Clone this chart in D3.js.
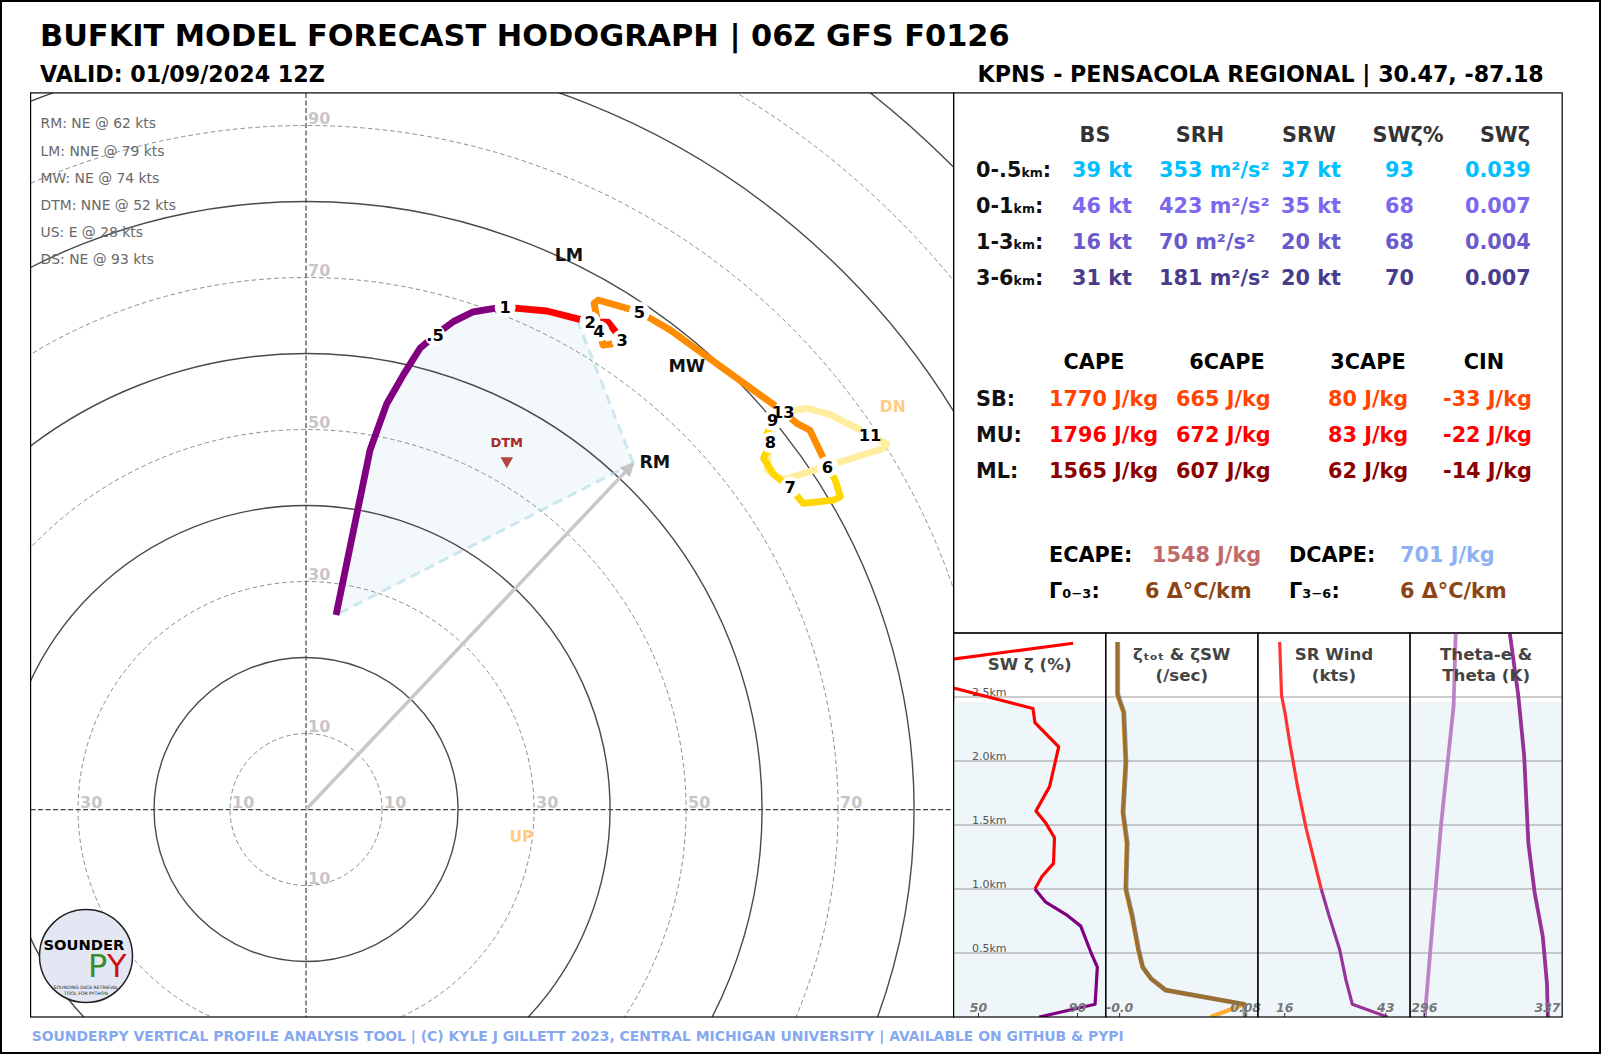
<!DOCTYPE html>
<html><head><meta charset="utf-8">
<script src="https://cdnjs.cloudflare.com/ajax/libs/d3/7.8.5/d3.min.js"></script>
<style>
body{margin:0;background:#fff}
svg{display:block}
text{font-family:'DejaVu Sans',sans-serif}
</style></head>
<body><svg id="c" width="1601" height="1054"></svg>
<script>
// ---------------- DATA ----------------
const titleText = "BUFKIT MODEL FORECAST HODOGRAPH | 06Z GFS F0126";
const validText = "VALID: 01/09/2024 12Z";
const siteText = "KPNS - PENSACOLA REGIONAL | 30.47, -87.18";
const footerText = "SOUNDERPY VERTICAL PROFILE ANALYSIS TOOL | (C) KYLE J GILLETT 2023, CENTRAL MICHIGAN UNIVERSITY | AVAILABLE ON GITHUB & PYPI";

// hodograph trace (km AGL, u kt, v kt)
const hodoHgt = [0,0.25,0.3,0.35,0.42,0.5,0.6,0.75,0.9,1.0,1.25,1.55,1.85,2.0,2.4,3.0,3.3,3.6,4.0,4.3,4.6,4.7,4.85,5.0,5.2,5.35,5.8,5.87,5.92,6.0,6.3,6.5,6.6,6.8,7.0,7.3,7.6,8.0,8.5,9.0,10.0,10.3,10.6,10.85,10.92,11.0,11.5,12.2,13.0];
const hodoU = [3.95,8.42,10.62,12.80,15.0,16.97,19.38,22.0,24.6,26.2,28.2,31.7,35.62,37.37,39.74,41.58,40.13,39.08,38.55,38.25,37.89,38.42,42.2,43.86,45.7,47.9,61.9,64.6,66.3,68.6,69.6,70.3,69.4,65.4,63.7,61.6,60.2,61.1,60.6,61.4,60.6,62.8,67.6,76.0,76.4,74.2,68.9,65.9,62.8];
const hodoV = [25.6,47.3,53.4,57.2,60.7,62.4,64.2,65.5,65.9,66.1,65.9,65.6,64.6,64.18,64.14,61.78,61.25,61.12,62.96,64.84,66.61,67.04,65.95,65.42,64.4,63.1,53.0,50.8,49.9,45.1,43.4,41.2,40.7,40.3,42.4,44.0,46.2,48.3,49.3,51.2,44.7,43.4,44.9,47.5,48.1,49.3,52.0,52.8,52.3];
const layerBounds = [0,1,3,6,9,13];
const layerColors = ["#800080","#ff0000","#ff8c00","#ffd700","#ffeda0"];
const hgtLabelKm = [0.5,1,2,3,4,5,6,7,8,9,11,13];
const hgtLabelText = [".5","1","2","3","4","5","6","7","8","9","11","13"];
const inflowTopKm = 1.85;

const ringVals = [10,20,30,40,50,60,70,80,90,100,110,120,130];
const ringLabelX = [-30,-10,10,30,50,70];
const ringLabelY = [-10,10,30,50,70,90];

// storm motions
const rmUV = [43.07,45.55];
const dtmUV = [26.41,45.63];
const lmLabelUV = [34.6,72.96];
const mwLabelUV = [50.1,58.4];
const dnUV = [77.2,53.05];
const upUV = [28.34,-3.58];
const motionNames = ["RM","LM","MW","DTM","US","DS"];
const motionDirs = ["NE","NNE","NE","NNE","E","NE"];
const motionSpds = [62,79,74,52,28,93];

// kinematic table
const shearHeaders = ["BS","SRH","SRW","SWζ%","SWζ"];
const shearLayers = ["0-.5","0-1","1-3","3-6"];
const bsVals = [39,46,16,31];
const srhVals = [353,423,70,181];
const srwVals = [37,35,20,20];
const swzPctVals = [93,68,68,70];
const swzVals = ["0.039","0.007","0.004","0.007"];
const shearColors = ["#00bfff","#7b68ee","#6a5acd","#483d8b"];

// thermo table
const capeHeaders = ["CAPE","6CAPE","3CAPE","CIN"];
const parcels = ["SB","MU","ML"];
const capeVals = [1770,1796,1565];
const cape6Vals = [665,672,607];
const cape3Vals = [80,83,62];
const cinVals = [-33,-22,-14];
const parcelColors = ["#ff4500","#ff0000","#8b0000"];
const ecapeVal = 1548, dcapeVal = 701, lapse03 = 6, lapse36 = 6;

// vertical profile panels (km, value)
const swzHgt = [0,0.10,0.39,0.50,0.71,0.80,0.90,1.00,1.10,1.20,1.40,1.52,1.61,1.80,2.11,2.30,2.41,2.72,2.92];
const swzPct = [74.7,97.3,98.2,95.7,91.5,85.6,77.2,73.0,75.9,80.5,80.9,77.2,73.4,78.9,82.6,73.0,72.2,10,88.4];
const zetaHgt = [0,0.10,0.21,0.30,0.39,0.53,0.79,1.0,1.36,1.60,1.99,2.38,2.52,2.93];
const zetaTot = [0.080,0.0795,0.0295,0.0203,0.015,0.0123,0.0084,0.0044,0.0052,0.0026,0.0044,0.0031,-0.0008,-0.0008];
const zetaSW  = [0.058,0.0795,0.0295,0.0201,0.0148,0.0120,0.0080,0.0040,0.0048,0.0022,0.0040,0.0026,-0.0013,-0.0013];
const srwHgt = [0,0.10,0.29,0.53,0.79,1.00,1.47,1.78,2.14,2.38,2.51,2.93];
const srwKt = [43.6,34.2,32.5,30.8,28.0,25.9,21.9,19.7,17.5,16.2,15.3,14.8];
const thetaHgt = [0,0.76,1.52,2.43,3.0];
const thetaK = [296.3,299.0,301.8,305.9,306.6];
const thetaEHgt = [0,0.26,0.63,0.97,1.36,2.04,2.52,3.0];
const thetaEK = [337.3,337.0,335.6,332.9,330.8,329.4,327.4,324.6];
const gridKm = [0.5,1.0,1.5,2.0,2.5];
const inflowShadeKm = 2.46;
const panelTitles = [["SW ζ (%)"],["ζₜₒₜ & ζSW","(/sec)"],["SR Wind","(kts)"],["Theta-e &","Theta (K)"]];
const panelDomains = [[40.14,101.6],[-0.0085,0.0881],[8.98,49.63],[291.39,342.07]];
const panelTicks = [[50,90],[0,0.08],[16,43],[296,337]];
const panelTickLabels = [["50","90"],["-0.0","0.08"],["16","43"],["296","337"]];

// ---------------- DRAW ----------------
const svg = d3.select("#c");
svg.append("rect").attr("width",1601).attr("height",1054).attr("fill","#fff");
const defs = svg.append("defs");

function fit(sel, target){
  const w = sel.node().getComputedTextLength();
  const fs = parseFloat(sel.attr("font-size"));
  sel.attr("font-size", fs*target/w);
  return sel;
}

// titles
fit(svg.append("text").attr("x",40).attr("y",46).attr("font-size",30.5).attr("font-weight","bold").attr("fill","#000").text(titleText),970);
fit(svg.append("text").attr("x",40).attr("y",81.5).attr("font-size",22).attr("font-weight","bold").attr("fill","#000").text(validText),285);
fit(svg.append("text").attr("x",1543.8).attr("y",81.5).attr("text-anchor","end").attr("font-size",22).attr("font-weight","bold").attr("fill","#000").text(siteText),566.7);
fit(svg.append("text").attr("x",31.7).attr("y",1041).attr("font-size",13.9).attr("font-weight","bold").attr("fill","#86a8f0").text(footerText),1092.5);

// ---- hodograph ----
const HB = {x0:30.6,x1:953.6,y0:92.9,y1:1017};
const hx = d3.scaleLinear().domain([-36.24,85.2]).range([HB.x0,HB.x1]);
const hy = d3.scaleLinear().domain([-27.3,94.3]).range([HB.y1,HB.y0]);
defs.append("clipPath").attr("id","hclip").append("rect")
  .attr("x",HB.x0).attr("y",HB.y0).attr("width",HB.x1-HB.x0).attr("height",HB.y1-HB.y0);
const hg = svg.append("g").attr("clip-path","url(#hclip)");
const cx0 = hx(0), cy0 = hy(0), kt = hx(1)-hx(0);
const pts = hodoHgt.map((h,i)=>({h:h,u:hodoU[i],v:hodoV[i]}));
const line = d3.line().x(d=>hx(d.u)).y(d=>hy(d.v));

// inflow fill
const inflowPts = [{u:rmUV[0],v:rmUV[1]}].concat(pts.filter(p=>p.h<=inflowTopKm));
hg.append("path").attr("d",line(inflowPts)+"Z").attr("fill","#f3f9fb").attr("stroke","none");

// rings
hg.selectAll("circle.ring").data(ringVals).enter().append("circle")
  .attr("cx",cx0).attr("cy",cy0).attr("r",d=>d*kt).attr("fill","none")
  .attr("stroke",d=>d%20===0?"#4a4a4a":"#8c8c8c")
  .attr("stroke-width",d=>d%20===0?1.4:1)
  .attr("stroke-dasharray",d=>d%20===0?null:"4.5 3");
// axes
hg.append("line").attr("x1",cx0).attr("x2",cx0).attr("y1",HB.y0).attr("y2",HB.y1)
  .attr("stroke","#444").attr("stroke-width",1.2).attr("stroke-dasharray","5 2.5");
hg.append("line").attr("x1",HB.x0).attr("x2",HB.x1).attr("y1",cy0).attr("y2",cy0)
  .attr("stroke","#444").attr("stroke-width",1.2).attr("stroke-dasharray","5 2.5");
// ring labels
hg.selectAll("text.rx").data(ringLabelX).enter().append("text")
  .attr("x",d=>hx(d)+2).attr("y",cy0-1.5).attr("font-size",16).attr("font-weight","bold")
  .attr("fill","#c6c6c6").text(d=>Math.abs(d));
hg.selectAll("text.ry").data(ringLabelY).enter().append("text")
  .attr("x",cx0+2).attr("y",d=>hy(d)-1.5).attr("font-size",16).attr("font-weight","bold")
  .attr("fill","#c6c6c6").text(d=>Math.abs(d));

// dashed inflow edges
const inflowTop = pts.filter(p=>p.h<=inflowTopKm).slice(-1)[0];
[pts[0], inflowTop].forEach(p=>{
  hg.append("line").attr("x1",hx(rmUV[0])).attr("y1",hy(rmUV[1])).attr("x2",hx(p.u)).attr("y2",hy(p.v))
    .attr("stroke","#add8e6").attr("stroke-opacity",0.6).attr("stroke-width",3).attr("stroke-dasharray","10 6");
});

// RM arrow
defs.append("marker").attr("id","ah").attr("viewBox","0 0 10 10").attr("refX",9).attr("refY",5)
  .attr("markerWidth",4).attr("markerHeight",4).attr("orient","auto")
  .append("path").attr("d","M0,0L10,5L0,10Z").attr("fill","#c4c4c4");
hg.append("line").attr("x1",cx0).attr("y1",cy0).attr("x2",hx(rmUV[0])).attr("y2",hy(rmUV[1]))
  .attr("stroke","#c8c8c8").attr("stroke-width",3.5).attr("marker-end","url(#ah)");

// trace segments (upper layers drawn first)
for(let i=layerColors.length-1;i>=0;i--){
  const lo=layerBounds[i], hi=layerBounds[i+1];
  const seg = pts.filter(p=>p.h>=lo && p.h<=hi);
  hg.append("path").attr("d",line(seg)).attr("fill","none").attr("stroke",layerColors[i])
    .attr("stroke-width",6.8).attr("stroke-linejoin","round").attr("stroke-linecap","butt");
}
// height labels
hgtLabelKm.forEach((km,i)=>{
  const p = pts[hodoHgt.indexOf(km)];
  hg.append("circle").attr("cx",hx(p.u)).attr("cy",hy(p.v)).attr("r",10.5).attr("fill","#fff");
});
hgtLabelKm.forEach((km,i)=>{
  const p = pts[hodoHgt.indexOf(km)];
  hg.append("text").attr("x",hx(p.u)).attr("y",hy(p.v)+5.8).attr("text-anchor","middle")
    .attr("font-size",16.3).attr("font-weight","bold").attr("fill","#000").text(hgtLabelText[i]);
});

// motion labels
hg.append("text").attr("x",hx(lmLabelUV[0])).attr("y",hy(lmLabelUV[1])+6.3).attr("text-anchor","middle")
  .attr("font-size",17.5).attr("font-weight","bold").attr("fill","#111").text("LM");
hg.append("text").attr("x",hx(mwLabelUV[0])).attr("y",hy(mwLabelUV[1])+6.3).attr("text-anchor","middle")
  .attr("font-size",17.5).attr("font-weight","bold").attr("fill","#111").text("MW");
hg.append("text").attr("x",hx(rmUV[0])+6).attr("y",hy(rmUV[1])+4.5)
  .attr("font-size",17.5).attr("font-weight","bold").attr("fill","#111").text("RM");
// DTM
const dx = hx(dtmUV[0]), dy = hy(dtmUV[1]);
hg.append("path").attr("d",`M${dx-6.3},${dy-5.5}L${dx+6.3},${dy-5.5}L${dx},${dy+5.5}Z`).attr("fill","#b54545");
hg.append("text").attr("x",dx).attr("y",dy-16).attr("text-anchor","middle")
  .attr("font-size",13).attr("font-weight","bold").attr("fill","#a52a2a").text("DTM");
hg.append("text").attr("x",hx(dnUV[0])).attr("y",hy(dnUV[1])+5.6).attr("text-anchor","middle")
  .attr("font-size",15.5).attr("font-weight","bold").attr("fill","#ffcc80").text("DN");
hg.append("text").attr("x",hx(upUV[0])).attr("y",hy(upUV[1])+5.6).attr("text-anchor","middle")
  .attr("font-size",15.5).attr("font-weight","bold").attr("fill","#ffcc80").text("UP");

// motion list
motionNames.forEach((n,i)=>{
  hg.append("text").attr("x",40.6).attr("y",128.4+i*27.2).attr("font-size",13.9).attr("fill","#696969")
    .text(`${n}: ${motionDirs[i]} @ ${motionSpds[i]} kts`);
});

// logo
const lg = hg.append("g");
lg.append("circle").attr("cx",86).attr("cy",956).attr("r",46.5).attr("fill","#e3e7f3").attr("stroke","#222").attr("stroke-width",1.5);
fit(lg.append("text").attr("x",43.5).attr("y",950).attr("font-size",15).attr("font-weight","bold").attr("fill","#000").text("SOUNDER"),81);
lg.append("text").attr("x",88).attr("y",977).attr("font-size",32).attr("fill","#3d8c2a").text("P");
lg.append("text").attr("x",107).attr("y",977).attr("font-size",32).attr("fill","#cc1111").text("Y");
lg.append("text").attr("x",86).attr("y",989).attr("text-anchor","middle").attr("font-size",4.6).attr("fill","#222").text("SOUNDING DATA RETRIEVAL");
lg.append("text").attr("x",86).attr("y",995).attr("text-anchor","middle").attr("font-size",4.6).attr("fill","#222").text("TOOL FOR PYTHON");

svg.append("rect").attr("x",HB.x0).attr("y",HB.y0).attr("width",HB.x1-HB.x0).attr("height",HB.y1-HB.y0)
  .attr("fill","none").attr("stroke","#000").attr("stroke-width",1.2);

// ---- table ----
const TB = {x0:953.6,x1:1562.2,y0:92.9,y1:633};
svg.append("rect").attr("x",TB.x0).attr("y",TB.y0).attr("width",TB.x1-TB.x0).attr("height",TB.y1-TB.y0)
  .attr("fill","none").attr("stroke","#000").attr("stroke-width",1.2);
const FS = 20.8;
const shearHeadX = [1095,1200,1309,1408,1505];
shearHeaders.forEach((h,i)=>svg.append("text").attr("x",shearHeadX[i]).attr("y",141.5).attr("text-anchor","middle")
  .attr("font-size",FS).attr("font-weight","bold").attr("fill","#333").text(h));
const rowY = [177.2,212.9,248.7,284.6];
const shearColX = [1072,1159,1281,1385,1465];
shearLayers.forEach((l,i)=>{
  const t = svg.append("text").attr("x",976).attr("y",rowY[i]).attr("font-size",FS).attr("font-weight","bold").attr("fill","#111");
  t.append("tspan").text(l);
  t.append("tspan").attr("font-size",12.5).text("km");
  t.append("tspan").text(":");
  const vals = [`${bsVals[i]} kt`,`${srhVals[i]} m²/s²`,`${srwVals[i]} kt`,`${swzPctVals[i]}`,swzVals[i]];
  vals.forEach((v,j)=>svg.append("text").attr("x",shearColX[j]).attr("y",rowY[i]).attr("font-size",FS)
    .attr("font-weight","bold").attr("fill",shearColors[i]).text(v));
});
const capeHeadX = [1094,1227,1368,1484];
capeHeaders.forEach((h,i)=>svg.append("text").attr("x",capeHeadX[i]).attr("y",369.3).attr("text-anchor","middle")
  .attr("font-size",FS).attr("font-weight","bold").attr("fill","#000").text(h));
const capeRowY = [406,441.8,477.7];
const capeColX = [1049,1176,1328,1443];
parcels.forEach((p,i)=>{
  svg.append("text").attr("x",976).attr("y",capeRowY[i]).attr("font-size",FS).attr("font-weight","bold").attr("fill","#111").text(p+":");
  const vals = [capeVals[i],cape6Vals[i],cape3Vals[i],cinVals[i]];
  vals.forEach((v,j)=>svg.append("text").attr("x",capeColX[j]).attr("y",capeRowY[i]).attr("font-size",FS)
    .attr("font-weight","bold").attr("fill",parcelColors[i]).text(`${v} J/kg`));
});
function tt(x,y,s,c){return svg.append("text").attr("x",x).attr("y",y).attr("font-size",FS).attr("font-weight","bold").attr("fill",c).text(s);}
tt(1049,561.7,"ECAPE:","#000");
tt(1152,561.7,`${ecapeVal} J/kg`,"#bf6b6b");
tt(1289,561.7,"DCAPE:","#000");
tt(1400,561.7,`${dcapeVal} J/kg`,"#8fb1f2");
tt(1049,597.5,"Γ₀₋₃:","#000");
tt(1145,597.5,`${lapse03} Δ°C/km`,"#8b4513");
tt(1289,597.5,"Γ₃₋₆:","#000");
tt(1400,597.5,`${lapse36} Δ°C/km`,"#8b4513");

// ---- profile panels ----
const PB = {x0:953.6,x1:1562.2,y0:633,y1:1017};
const pw = (PB.x1-PB.x0)/4;
const py = d3.scaleLinear().domain([0,3]).range([PB.y1,PB.y0]);
const pg = svg.append("g");
pg.append("rect").attr("x",PB.x0).attr("y",py(inflowShadeKm)).attr("width",PB.x1-PB.x0)
  .attr("height",py(0)-py(inflowShadeKm)).attr("fill","#eef6f9");
gridKm.forEach(k=>{
  pg.append("line").attr("x1",PB.x0).attr("x2",PB.x1).attr("y1",py(k)).attr("y2",py(k)).attr("stroke","#9a9a9a").attr("stroke-width",1.1);
  pg.append("text").attr("x",972).attr("y",py(k)-0.8).attr("font-size",11).attr("fill","#555").text(k.toFixed(1)+"km");
});
const pxs = panelDomains.map((d,i)=>d3.scaleLinear().domain(d).range([PB.x0+i*pw,PB.x0+(i+1)*pw]));
panelDomains.forEach((d,i)=>{
  defs.append("clipPath").attr("id","pc"+i).append("rect").attr("x",PB.x0+i*pw).attr("y",PB.y0).attr("width",pw).attr("height",PB.y1-PB.y0);
});
function prof(i,h,v,filterFn,color,width,opacity){
  const data = h.map((hh,k)=>({h:hh,v:v[k]})).filter(filterFn);
  pg.append("path").attr("clip-path",`url(#pc${i})`)
    .attr("d",d3.line().x(d=>pxs[i](d.v)).y(d=>py(d.h))(data))
    .attr("fill","none").attr("stroke",color).attr("stroke-width",width).attr("stroke-opacity",opacity||1)
    .attr("stroke-linejoin","round");
}
prof(0,swzHgt,swzPct,d=>d.h>=1,"#ff0000",3.2);
prof(0,swzHgt,swzPct,d=>d.h<=1,"#800080",3.2);
prof(1,zetaHgt,zetaSW,d=>true,"#ffad2e",4.2);
prof(1,zetaHgt,zetaTot,d=>true,"#333",4.6,0.5);
prof(2,srwHgt,srwKt,d=>d.h>=1,"#ff3333",3.2);
prof(2,srwHgt,srwKt,d=>d.h<=1,"#993399",3.2);
prof(3,thetaHgt,thetaK,d=>true,"#be82c8",3.8);
prof(3,thetaEHgt,thetaEK,d=>true,"#963296",3.8);

// panel axes
panelDomains.forEach((d,i)=>{
  const ax = d3.axisBottom(pxs[i]).tickValues(panelTicks[i]).tickFormat((t,k)=>panelTickLabels[i][k]).tickSize(-4);
  const g = pg.append("g").attr("transform",`translate(0,${PB.y1})`).call(ax);
  g.select(".domain").remove();
  g.selectAll(".tick line").attr("stroke","#333");
  g.selectAll(".tick text").attr("y",-5.3).attr("dy",0).attr("font-size",12.5).attr("font-weight","bold")
    .attr("font-style","italic").attr("fill","#777").attr("font-family","'DejaVu Sans',sans-serif");
  const cx = PB.x0+(i+0.5)*pw;
  const lines = panelTitles[i];
  lines.forEach((s,k)=>{
    const y = lines.length===1 ? 669.8 : (k===0?659.6:681);
    pg.append("text").attr("x",cx).attr("y",y).attr("text-anchor","middle").attr("font-size",16.7)
      .attr("font-weight","bold").attr("fill","#444").text(s);
  });
  pg.append("rect").attr("x",PB.x0+i*pw).attr("y",PB.y0).attr("width",pw).attr("height",PB.y1-PB.y0)
    .attr("fill","none").attr("stroke","#000").attr("stroke-width",1.2);
});

// outer frame
svg.append("rect").attr("x",0).attr("y",0).attr("width",1601).attr("height",1054)
  .attr("fill","none").attr("stroke","#000").attr("stroke-width",4);
</script>
</body></html>
